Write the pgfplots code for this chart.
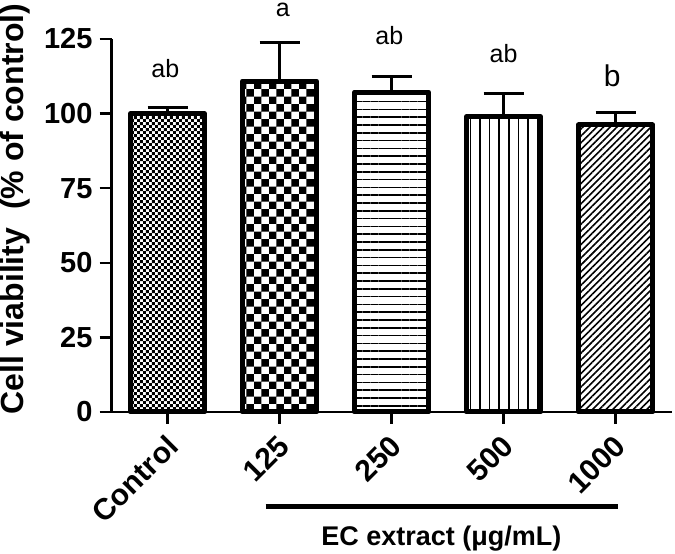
\documentclass[border=0pt]{standalone}
\usepackage{pgfplots}
\pgfplotsset{compat=1.18}
\usepackage{fontspec}
\setmainfont{Liberation Sans}
\usetikzlibrary{patterns,patterns.meta}
\pgfdeclarepatternformonly{finecheck}{\pgfpointorigin}{\pgfqpoint{3pt}{3pt}}{\pgfqpoint{3pt}{3pt}}{%
  \pgfpathrectangle{\pgfpointorigin}{\pgfqpoint{1.5pt}{1.5pt}}%
  \pgfpathrectangle{\pgfqpoint{1.5pt}{1.5pt}}{\pgfqpoint{1.5pt}{1.5pt}}%
  \pgfusepath{fill}}
\pgfdeclarepatternformonly{bigcheck}{\pgfpointorigin}{\pgfqpoint{7.5pt}{7.5pt}}{\pgfqpoint{7.5pt}{7.5pt}}{%
  \pgfpathrectangle{\pgfpointorigin}{\pgfqpoint{3.75pt}{3.75pt}}%
  \pgfpathrectangle{\pgfqpoint{3.75pt}{3.75pt}}{\pgfqpoint{3.75pt}{3.75pt}}%
  \pgfusepath{fill}}
\begin{document}
\begin{tikzpicture}
\begin{axis}[
  scale only axis, width=280pt, height=186.5pt,
  xmin=-0.5, xmax=4.5, ymin=0, ymax=125,
  axis x line=bottom, axis y line=left,
  axis line style={-, line width=1.2pt},
  ytick={0,25,50,75,100,125},
  xtick={0,1,2,3,4}, xticklabels={Control,125,250,500,1000},
  tick style={line width=1.2pt, black}, major tick length=6pt,
  tick align=outside,
  ybar, bar width=37pt, bar shift=0pt,
  clip=false,
  y tick label style={font=\bfseries\fontsize{14.5}{16}\selectfont},
  /pgf/number format/assume math mode=true,
  x tick label style={font=\bfseries\fontsize{15}{17}\selectfont, xshift=-1.5pt, yshift=-4.5pt, rotate=45, anchor=north east, inner sep=0pt},
  enlargelimits=false,
  error bars/y dir=plus, error bars/y explicit,
  error bars/error mark=|,
  error bars/error bar style={line width=1.2pt, black},
  error bars/error mark options={line width=1.4pt, mark size=10pt, black},
]
\addplot[draw=black, line width=2.5pt, line join=round, pattern=finecheck] coordinates {(0,100) +- (0,2.1)};
\addplot[draw=black, line width=2.5pt, line join=round, pattern=bigcheck] coordinates {(1,110.9) +- (0,12.8)};
\addplot[draw=black, line width=2.5pt, line join=round, pattern={Lines[angle=0, distance=3.9pt, line width=0.8pt]}] coordinates {(2,107.2) +- (0,5.2)};
\addplot[draw=black, line width=2.5pt, line join=round, pattern={Lines[angle=90, distance=4.8pt, line width=0.8pt]}] coordinates {(3,98.9) +- (0,7.9)};
\addplot[draw=black, line width=2.5pt, line join=round, pattern={Lines[angle=45, distance=2.4pt, line width=0.8pt]}] coordinates {(4,96.2) +- (0,4.2)};
\node[anchor=base, font=\fontsize{12.5}{14}\selectfont] at (axis cs:-0.02,112) {ab};
\node[anchor=base, font=\fontsize{12.5}{14}\selectfont] at (axis cs:1.03,132.4) {a};
\node[anchor=base, font=\fontsize{12.5}{14}\selectfont] at (axis cs:1.98,123) {ab};
\node[anchor=base, font=\fontsize{12.5}{14}\selectfont] at (axis cs:3,117) {ab};
\node[anchor=base, font=\fontsize{15}{17}\selectfont] at (axis cs:3.97,109) {b};
\node[rotate=90, font=\bfseries\fontsize{16}{18}\selectfont] at (axis cs:-1.36,68) {Cell viability\ \ (\% of control)};
\draw[line width=2.5pt] (axis cs:0.875,-31.8) -- (axis cs:4.02,-31.8);
\node[anchor=base, font=\bfseries\fontsize{13.5}{15}\selectfont] at (axis cs:2.445,-44.6) {EC extract (μg/mL)};
\coordinate (bl) at (axis cs:-1.496,-47.59);
\coordinate (tr) at (axis cs:4.531,138.07);
\end{axis}
\pgfresetboundingbox
\path (bl) rectangle (tr);
\end{tikzpicture}
\end{document}
